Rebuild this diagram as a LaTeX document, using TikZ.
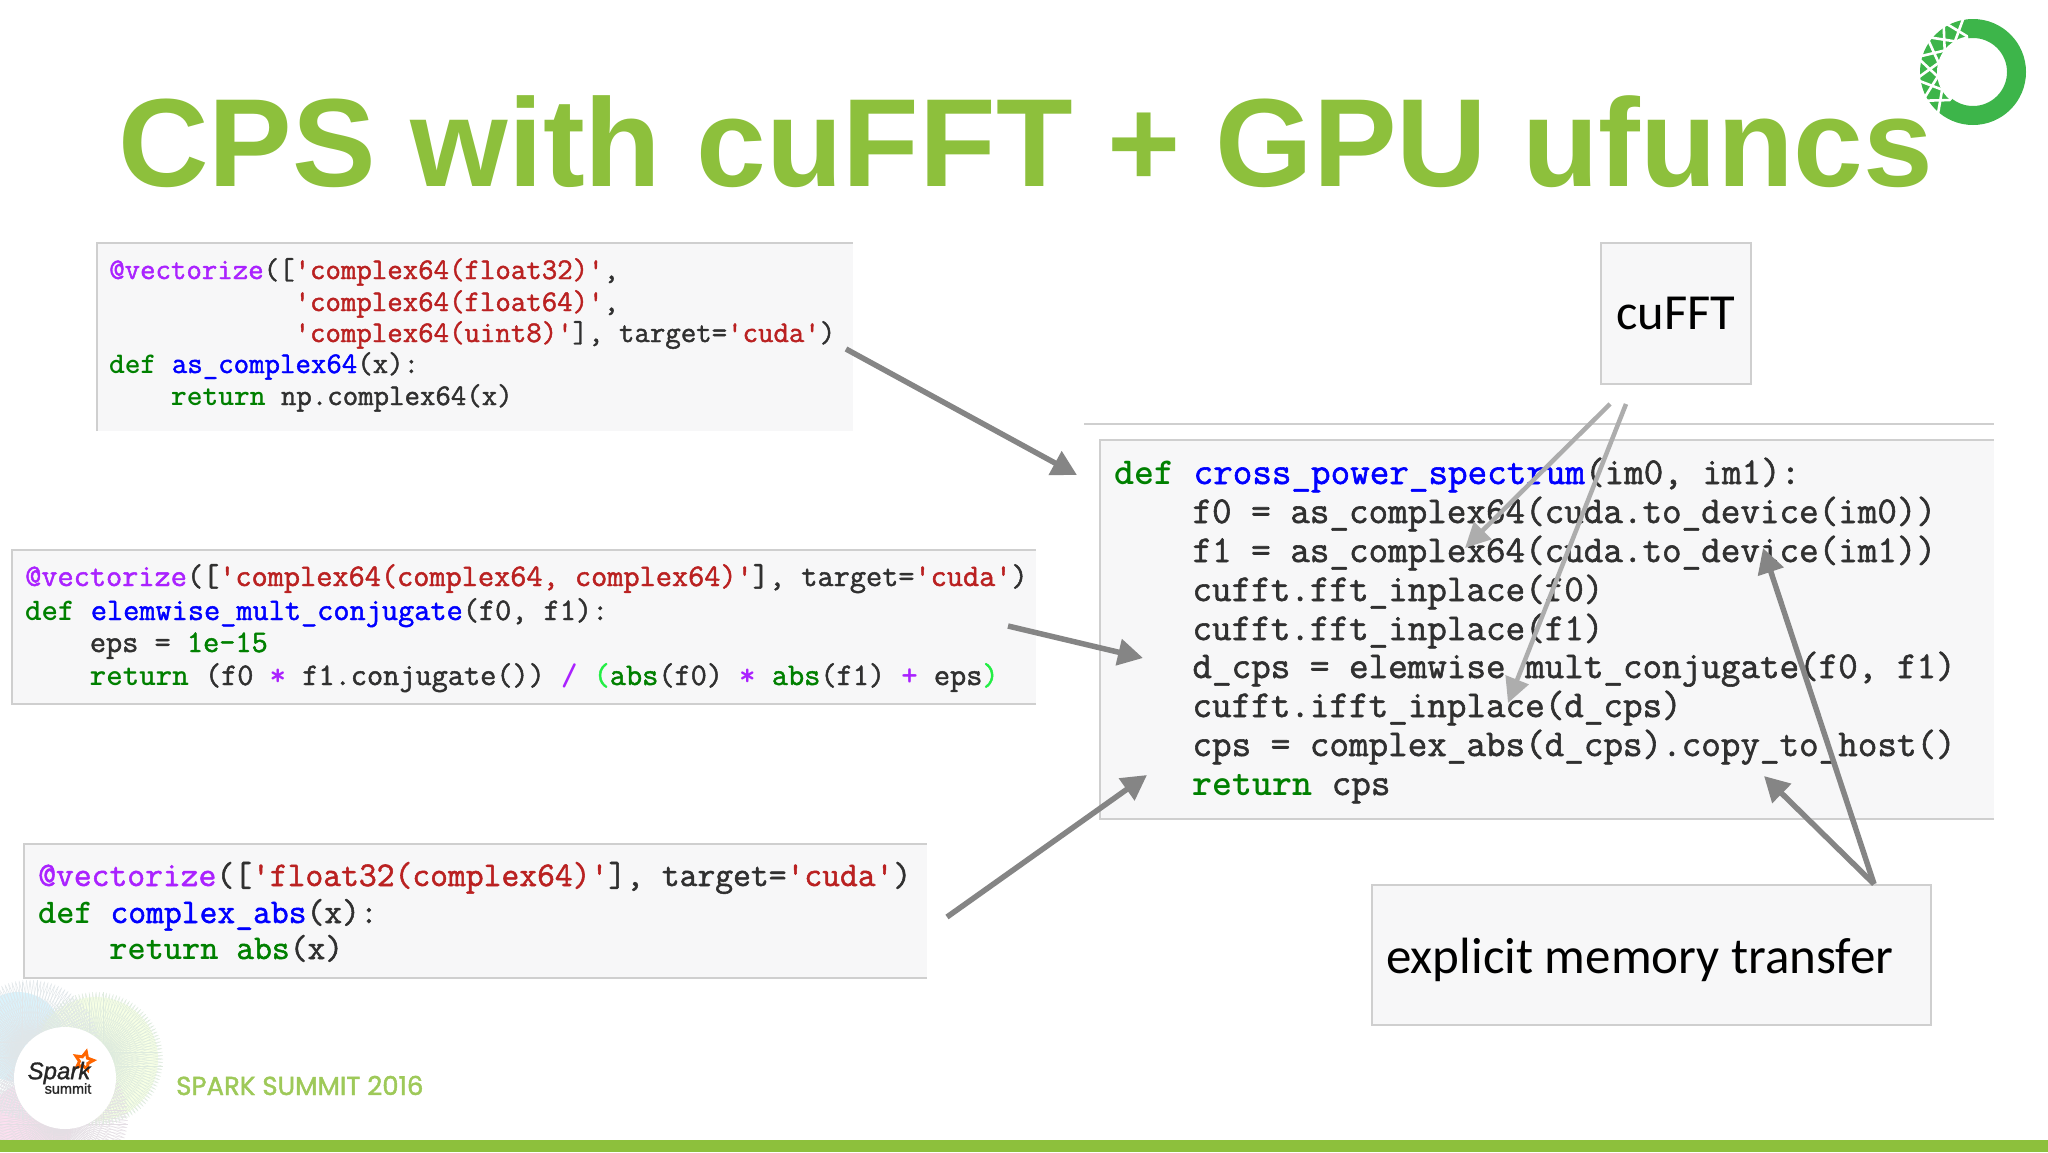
\documentclass[tikz,border=0pt]{standalone}
\usepackage{fontspec}
\usetikzlibrary{arrows.meta,shapes.geometric,calc}
\newfontfamily\titlefont{Liberation Sans}
\newfontfamily\calfont{Carlito}
\newfontfamily\popfont[FakeBold=1.6]{Poppins}
\newfontfamily\codefont[FakeBold=1.5]{Latin Modern Mono}
\newfontfamily\sparkfont[FakeBold=1.2]{Liberation Sans}
\definecolor{kw}{HTML}{008000}
\definecolor{fn}{HTML}{0000FF}
\definecolor{dec}{HTML}{AA22FF}
\definecolor{st}{HTML}{BA2121}
\definecolor{op}{HTML}{AA22FF}
\definecolor{brace}{HTML}{22EE44}
\definecolor{txt}{HTML}{303030}
\definecolor{lime}{HTML}{8DC03C}
\definecolor{panelbg}{HTML}{F7F7F8}
\definecolor{panelln}{HTML}{CFCFCF}
\definecolor{anagreen}{HTML}{3DB54A}
\newcommand{\K}[1]{\textcolor{kw}{\ttfamily\bfseries #1}}
\newcommand{\B}[1]{\textcolor{kw}{#1}}
\newcommand{\F}[1]{\textcolor{fn}{#1}}
\newcommand{\D}[1]{\textcolor{dec}{#1}}
\newcommand{\St}[1]{\textcolor{st}{#1}}
\newcommand{\Op}[1]{\textcolor{op}{\ttfamily\bfseries #1}}
\newcommand{\Gr}[1]{\textcolor{brace}{#1}}
\newcommand{\Us}{\char`\_}
\newcommand{\Q}{\char`\'}
\tikzset{
  panel/.style={fill=panelbg,draw=none},
  pline/.style={draw=panelln,line width=2pt},
  codeline/.style={anchor=base west,inner sep=0pt,text=txt},
  labelbox/.style={draw=panelln,line width=1.5pt,fill=panelbg,inner sep=0pt},
  bigarrow/.style={draw=black!48,line width=5.5pt,-{Triangle[length=25pt,width=26pt]}},
  thinarrow/.style={draw=black!32,line width=4.5pt,-{Triangle[length=25pt,width=24pt]}},
}
\begin{document}
\begin{tikzpicture}[x=1pt,y=-1pt]
\useasboundingbox (0,0) rectangle (2048,1152);
\fill[white] (0,0) rectangle (2048,1152);
% spark bursts
\begin{scope}
\clip (0,960) rectangle (300,1140);
\fill[cyan!26,opacity=.55] (18,1037) circle (45);
\fill[green!30!yellow!18,opacity=.55] (96,1059) circle (62);
\fill[magenta!24,opacity=.5] (30,1125) circle (42);
\foreach \a in {0,3,...,357}{
  \draw[cyan!30!black!14,line width=.5pt] (30,1050)++(\a:70) -- ++(\a+174:138);
  \draw[green!40!black!13,line width=.5pt] (96,1059)++(\a:67) -- ++(\a+174:132);
  \draw[violet!40!black!13,line width=.5pt] (60,1117)++(\a:68) -- ++(\a+174:134);
}
\end{scope}
\fill[white] (65,1078) circle (51);
\node[star,star points=5,star point ratio=2.1,draw=orange!80!red,line width=3pt,fill=white,inner sep=3.2pt,rotate=-14] (sparkstar) at (84,1061) {};
\node[inner sep=0pt,text=black!85] (sparkword) at (59,1073) {\sparkfont\fontsize{24}{24}\selectfont\itshape Spark};
\node[anchor=north,inner sep=0pt,text=black!85] (summitword) at (68,1083) {\sparkfont\fontsize{14.5}{14.5}\selectfont summit};
\node[anchor=base west,inner sep=0pt,text=lime!85!white] (brand) at (176,1095) {\popfont\fontsize{26}{26}\selectfont SPARK SUMMIT 2016};
% bottom bar
\fill[lime] (0,1140) rectangle (2048,1152);
% title
\node[anchor=base west,inner sep=0pt,text=lime] (title) at (118,186) {\titlefont\bfseries\fontsize{125.4}{125.4}\selectfont CPS with cuFFT + GPU ufuncs};
% anaconda logo
\coordinate (ac) at (1973,72);
\fill[anagreen,even odd rule] (ac) circle (53) (ac) circle (34);
\begin{scope}
\clip (ac) -- ++(128:60) arc[start angle=128,end angle=262,radius=60] -- cycle;
\fill[white] (ac) circle (36);
\foreach \o in {0,...,6}{
  \pgfmathsetmacro{\t}{128+\o*22.3}
  \draw[white,line width=2.6pt] ($(ac)+(\t:58)$) -- ($(ac)+(\t+38:30)$);
  \draw[white,line width=2.6pt] ($(ac)+(\t:58)$) -- ($(ac)+(\t-38:30)$);
}
\end{scope}
% panel 1
\fill[panel] (97,243) rectangle (853,431);
\draw[pline] (97,431) -- (97,243) -- (853,243);
\begin{scope}[every node/.style={codeline},font=\codefont\fontsize{30}{30}\selectfont]
\node (p1a) at (109,279) {\D{@vectorize}([\St{\Q complex64(float32)\Q},};
\node (p1b) at (109,311) {\phantom{@vectorize([}\St{\Q complex64(float64)\Q},};
\node (p1c) at (109,342) {\phantom{@vectorize([}\St{\Q complex64(uint8)\Q}], target=\St{\Q cuda\Q})};
\node (p1d) at (109,373) {\K{def} \F{as\Us complex64}(x):};
\node (p1e) at (109,405) {\phantom{0000}\K{return} np.complex64(x)};
\end{scope}
% panel 2
\fill[panel] (12,550) rectangle (1036,704);
\draw[pline] (1036,704) -- (12,704) -- (12,550) -- (1036,550);
\begin{scope}[every node/.style={codeline},font=\codefont\fontsize{31.4}{31.4}\selectfont]
\node (p2a) at (25,586) {\D{@vectorize}([\St{\Q complex64(complex64, complex64)\Q}], target=\St{\Q cuda\Q})};
\node (p2b) at (25,620) {\K{def} \F{elemwise\Us mult\Us conjugate}(f0, f1):};
\node (p2c) at (25,652) {\phantom{0000}eps = \B{1e-15}};
\node (p2d) at (25,685) {\phantom{0000}\K{return} (f0 \Op{*} f1.conjugate()) \Op{/} \Gr{(}\B{abs}(f0) \Op{*} \B{abs}(f1) \Op{+} eps\Gr{)}};
\end{scope}
% panel 3
\fill[panel] (24,844) rectangle (927,978);
\draw[pline] (927,978) -- (24,978) -- (24,844) -- (927,844);
\begin{scope}[every node/.style={codeline},font=\codefont\fontsize{34.6}{34.6}\selectfont]
\node (p3a) at (38,886) {\D{@vectorize}([\St{\Q float32(complex64)\Q}], target=\St{\Q cuda\Q})};
\node (p3b) at (38,923) {\K{def} \F{complex\Us abs}(x):};
\node (p3c) at (38,959) {\phantom{0000}\K{return} \B{abs}(x)};
\end{scope}
% right panel
\draw[pline] (1084,424) -- (1994,424);
\fill[panel] (1100,440) rectangle (1994,819);
\draw[pline] (1994,819) -- (1100,819) -- (1100,440) -- (1994,440);
\begin{scope}[every node/.style={codeline},font=\codefont\fontsize{38}{38}\selectfont]
\node (m1) at (1114,484) {\K{def} \F{cross\Us power\Us spectrum}(im0, im1):};
\node (m2) at (1114,523) {\phantom{0000}f0 = as\Us complex64(cuda.to\Us device(im0))};
\node (m3) at (1114,562) {\phantom{0000}f1 = as\Us complex64(cuda.to\Us device(im1))};
\node (m4) at (1114,601) {\phantom{0000}cufft.fft\Us inplace(f0)};
\node (m5) at (1114,640) {\phantom{0000}cufft.fft\Us inplace(f1)};
\node (m6) at (1114,678) {\phantom{0000}d\Us cps = elemwise\Us mult\Us conjugate(f0, f1)};
\node (m7) at (1114,717) {\phantom{0000}cufft.ifft\Us inplace(d\Us cps)};
\node (m8) at (1114,756) {\phantom{0000}cps = complex\Us abs(d\Us cps).copy\Us to\Us host()};
\node (m9) at (1114,795) {\phantom{0000}\K{return} cps};
\end{scope}
% label boxes
\node[labelbox,minimum width=150pt,minimum height=141pt] (cufft) at (1676,313.5) {\calfont\fontsize{50.5}{50.5}\selectfont cuFFT};
\node[labelbox,minimum width=559pt,minimum height=140pt,anchor=north west] (xfer) at (1371,884) {};
\node[anchor=base west,inner sep=0pt] (xferlabel) at (1386,973) {\calfont\fontsize{51}{51}\selectfont explicit memory transfer};
% arrows
\coordinate (a1s) at (846,349); \coordinate (a1e) at (1077,475);
\coordinate (a2s) at (1008,626); \coordinate (a2e) at (1143,658);
\coordinate (a3s) at (947,917); \coordinate (a3e) at (1147,775);
\coordinate (c1s) at (1610,404); \coordinate (c1e) at (1465,548);
\coordinate (c2s) at (1626,404); \coordinate (c2e) at (1508,703);
\coordinate (x0) at (1874,884); \coordinate (x1e) at (1763,548); \coordinate (x2e) at (1764,776);
\draw[bigarrow] (a1s) -- (a1e);
\draw[bigarrow] (a2s) -- (a2e);
\draw[bigarrow] (a3s) -- (a3e);
\draw[thinarrow] (c1s) -- (c1e);
\draw[thinarrow] (c2s) -- (c2e);
\draw[bigarrow] (x0) -- (x1e);
\draw[bigarrow] (x0) -- (x2e);
\end{tikzpicture}
\end{document}
